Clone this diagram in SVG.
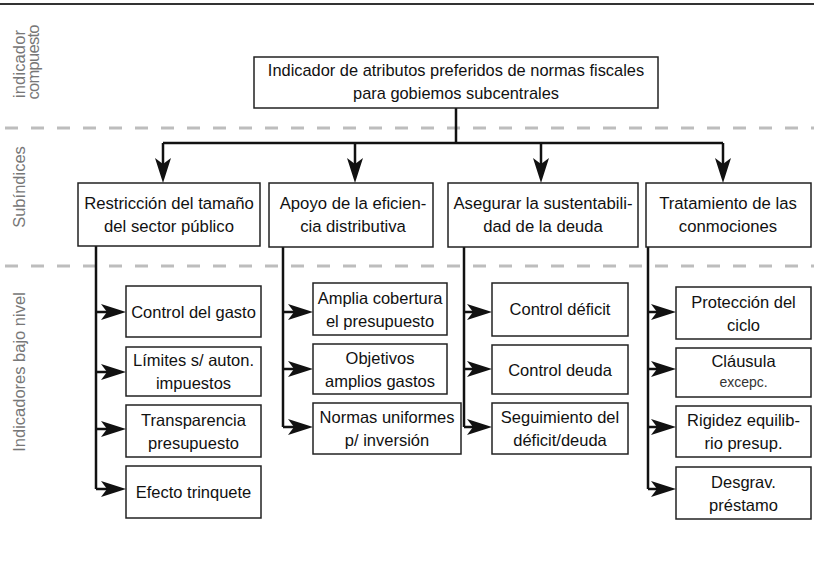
<svg xmlns="http://www.w3.org/2000/svg" xmlns:xlink="http://www.w3.org/1999/xlink" width="814" height="568" viewBox="0 0 814 568">
<style>
.bx{fill:#fff;stroke:#222;stroke-width:1.5}
.t{font-family:"Liberation Sans",Arial,sans-serif;fill:#111;text-anchor:middle}
.top{font-size:16.4px}
.sub{font-size:16.7px}
.leaf{font-size:16.5px}
.sm{font-size:14px;fill:#333}
.side{font-family:"Liberation Sans",Arial,sans-serif;font-size:16.5px;fill:#777;text-anchor:middle}
.sep{stroke:#bdbdbd;stroke-width:3;stroke-dasharray:13 13;fill:none}
.cn{stroke:#111;stroke-width:2.5;fill:none}
.ah{fill:#111}
</style>
<defs>
<path id="ahr" d="M0,0 L-25,-8 L-19,0 L-25,8 Z"/>
</defs>
<rect width="814" height="568" fill="#fff"/>
<line x1="0" y1="4" x2="814" y2="4" stroke="#333" stroke-width="2"/>
<line class="sep" x1="5" y1="128" x2="814" y2="128"/>
<line class="sep" x1="5" y1="266" x2="814" y2="266"/>

<g id="side-labels">
<text class="side" transform="translate(25,64) rotate(-90)" textLength="68" lengthAdjust="spacing">indicador</text>
<text class="side" transform="translate(39,62) rotate(-90)" textLength="75" lengthAdjust="spacing">compuesto</text>
<text class="side" transform="translate(25,187) rotate(-90)">Subíndices</text>
<text class="side" transform="translate(25,372) rotate(-90)">Indicadores bajo nivel</text>
</g>

<g id="connectors">
<path class="cn" d="M456,108 V143 M163,143 H723"/>
<path class="cn" d="M163,143 V168 M355,143 V168 M541,143 V168 M723,143 V168"/>
<path class="cn" d="M96,246 V489 M96,312 H110 M96,372 H110 M96,429 H110 M96,489 H110"/>
<path class="cn" d="M283,247 V427 M283,312 H297 M283,369 H297 M283,427 H297"/>
<path class="cn" d="M464,247 V427 M464,312 H476 M464,369 H476 M464,427 H476"/>
<path class="cn" d="M648,247 V489 M648,312 H660 M648,369 H660 M648,427 H660 M648,489 H660"/>
<g class="ah">
<use xlink:href="#ahr" href="#ahr" transform="translate(163,183) rotate(90)"/>
<use xlink:href="#ahr" href="#ahr" transform="translate(355,183) rotate(90)"/>
<use xlink:href="#ahr" href="#ahr" transform="translate(541,183) rotate(90)"/>
<use xlink:href="#ahr" href="#ahr" transform="translate(723,183) rotate(90)"/>
<use xlink:href="#ahr" href="#ahr" transform="translate(126,312)"/>
<use xlink:href="#ahr" href="#ahr" transform="translate(126,372)"/>
<use xlink:href="#ahr" href="#ahr" transform="translate(126,429)"/>
<use xlink:href="#ahr" href="#ahr" transform="translate(126,489)"/>
<use xlink:href="#ahr" href="#ahr" transform="translate(313,312)"/>
<use xlink:href="#ahr" href="#ahr" transform="translate(313,369)"/>
<use xlink:href="#ahr" href="#ahr" transform="translate(313,427)"/>
<use xlink:href="#ahr" href="#ahr" transform="translate(492,312)"/>
<use xlink:href="#ahr" href="#ahr" transform="translate(492,369)"/>
<use xlink:href="#ahr" href="#ahr" transform="translate(492,427)"/>
<use xlink:href="#ahr" href="#ahr" transform="translate(676,312)"/>
<use xlink:href="#ahr" href="#ahr" transform="translate(676,369)"/>
<use xlink:href="#ahr" href="#ahr" transform="translate(676,427)"/>
<use xlink:href="#ahr" href="#ahr" transform="translate(676,489)"/>
</g>
</g>

<g id="root">
<rect class="bx" x="254" y="57" width="404" height="51"/>
<text class="t top" x="456" y="76">Indicador de atributos preferidos de normas fiscales</text>
<text class="t top" x="456" y="99">para gobiemos subcentrales</text>
</g>

<g id="sub1"><rect class="bx" x="78" y="183" width="182" height="63"/>
<text class="t sub" x="169" y="209">Restricción del tamaño</text>
<text class="t sub" x="169" y="232">del sector público</text></g>
<g id="sub2"><rect class="bx" x="269" y="183" width="164" height="64"/>
<text class="t sub" x="353" y="209">Apoyo de la eficien-</text>
<text class="t sub" x="353" y="232">cia distributiva</text></g>
<g id="sub3"><rect class="bx" x="448" y="183" width="190" height="64"/>
<text class="t sub" x="543" y="209">Asegurar la sustentabili-</text>
<text class="t sub" x="543" y="232">dad de la deuda</text></g>
<g id="sub4"><rect class="bx" x="646" y="183" width="165" height="64"/>
<text class="t sub" x="728" y="209">Tratamiento de las</text>
<text class="t sub" x="728" y="232">conmociones</text></g>

<g id="l1a"><rect class="bx" x="126" y="286" width="135" height="51"/>
<text class="t leaf" x="193.5" y="317.5">Control del gasto</text></g>
<g id="l1b"><rect class="bx" x="126" y="347" width="135" height="49"/>
<text class="t leaf" x="193.5" y="366">Límites s/ auton.</text>
<text class="t leaf" x="193.5" y="389">impuestos</text></g>
<g id="l1c"><rect class="bx" x="126" y="405" width="135" height="52"/>
<text class="t leaf" x="193.5" y="425.5">Transparencia</text>
<text class="t leaf" x="193.5" y="448.5">presupuesto</text></g>
<g id="l1d"><rect class="bx" x="126" y="466" width="135" height="52"/>
<text class="t leaf" x="193.5" y="498">Efecto trinquete</text></g>

<g id="l2a"><rect class="bx" x="313" y="283" width="134" height="52"/>
<text class="t leaf" x="380" y="303.5">Amplia cobertura</text>
<text class="t leaf" x="380" y="326.5">el presupuesto</text></g>
<g id="l2b"><rect class="bx" x="313" y="344" width="134" height="50"/>
<text class="t leaf" x="380" y="363.5">Objetivos</text>
<text class="t leaf" x="380" y="386.5">amplios gastos</text></g>
<g id="l2c"><rect class="bx" x="313" y="403" width="148" height="51"/>
<text class="t leaf" x="387" y="423">Normas uniformes</text>
<text class="t leaf" x="387" y="446">p/ inversión</text></g>

<g id="l3a"><rect class="bx" x="492" y="283" width="136" height="53"/>
<text class="t leaf" x="560" y="315">Control déficit</text></g>
<g id="l3b"><rect class="bx" x="492" y="345" width="136" height="49"/>
<text class="t leaf" x="560" y="375.5">Control deuda</text></g>
<g id="l3c"><rect class="bx" x="492" y="403" width="136" height="51"/>
<text class="t leaf" x="560" y="423">Seguimiento del</text>
<text class="t leaf" x="560" y="446">déficit/deuda</text></g>

<g id="l4a"><rect class="bx" x="676" y="287" width="135" height="52"/>
<text class="t leaf" x="743.5" y="307.5">Protección del</text>
<text class="t leaf" x="743.5" y="330.5">ciclo</text></g>
<g id="l4b"><rect class="bx" x="676" y="348" width="135" height="49"/>
<text class="t leaf" x="743.5" y="367">Cláusula</text>
<text class="t sm" x="743.5" y="387">excepc.</text></g>
<g id="l4c"><rect class="bx" x="676" y="406" width="135" height="51"/>
<text class="t leaf" x="743.5" y="426">Rigidez equilib-</text>
<text class="t leaf" x="743.5" y="449">rio presup.</text></g>
<g id="l4d"><rect class="bx" x="676" y="467" width="135" height="52"/>
<text class="t leaf" x="743.5" y="487.5">Desgrav.</text>
<text class="t leaf" x="743.5" y="510.5">préstamo</text></g>
</svg>
